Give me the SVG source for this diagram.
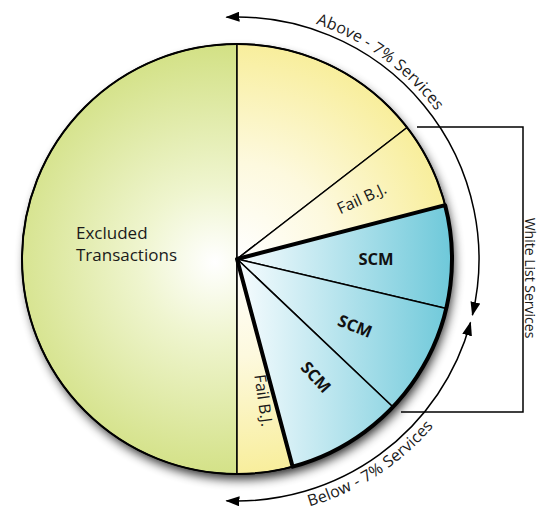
<svg xmlns="http://www.w3.org/2000/svg" width="540" height="514" viewBox="0 0 540 514">
<defs>
  <radialGradient id="gGreen" gradientUnits="userSpaceOnUse" cx="215" cy="262" r="215">
    <stop offset="0" stop-color="#ffffff"/>
    <stop offset="0.35" stop-color="#eff5cf"/>
    <stop offset="1" stop-color="#d3e186"/>
  </radialGradient>
  <radialGradient id="gYellow" gradientUnits="userSpaceOnUse" cx="237" cy="259" r="215">
    <stop offset="0" stop-color="#ffffff"/>
    <stop offset="0.45" stop-color="#fdf9de"/>
    <stop offset="1" stop-color="#f8ee9c"/>
  </radialGradient>
  <linearGradient id="gCyan" gradientUnits="userSpaceOnUse" x1="245" y1="0" x2="450" y2="0">
    <stop offset="0" stop-color="#f2fafd"/>
    <stop offset="1" stop-color="#6fc9da"/>
  </linearGradient>
  <filter id="shadow" x="-20%" y="-20%" width="140%" height="140%">
    <feGaussianBlur stdDeviation="5.5"/>
  </filter>
  <marker id="arrow" viewBox="0 0 14 10" refX="13" refY="5" markerWidth="14" markerHeight="10" markerUnits="userSpaceOnUse" orient="auto-start-reverse">
    <path d="M0,0 L14,5 L0,10 Z" fill="#000"/>
  </marker>
</defs>
<style>
  .sl { stroke: #000; stroke-width: 1.5; stroke-linejoin: round; }
  .arc { fill: none; stroke: #000; stroke-width: 1.5; marker-start: url(#arrow); marker-end: url(#arrow); }
  .lbl { font-family: "Open Sans", "Noto Sans", sans-serif; fill: #1a1a1a; }
  .scm { font-family: "Open Sans", "Noto Sans", sans-serif; font-weight: bold; font-size: 16.5px; fill: #111; }
  .arcTxt { font-family: "Open Sans", "Noto Sans", sans-serif; font-size: 16px; letter-spacing: 0.2px; fill: #1a1a1a; }
</style>

<rect width="540" height="514" fill="#ffffff"/>

<!-- shadow -->
<circle cx="240" cy="265" r="214" fill="#000" opacity="0.85" filter="url(#shadow)"/>

<g id="excluded">
  <path class="sl" d="M237,44 A215,215 0 0 0 237,474 Z" fill="url(#gGreen)"/>
  <text class="lbl" font-size="17" x="76" y="239">Excluded</text>
  <text class="lbl" font-size="17" x="76" y="261">Transactions</text>
</g>

<g id="above-slice">
  <path class="sl" d="M237,259 L237,44 A215,215 0 0 1 407.08,127.48 Z" fill="url(#gYellow)"/>
</g>

<g id="fail-bj-top">
  <path class="sl" d="M237,259 L407.08,127.48 A215,215 0 0 1 445.15,205.17 Z" fill="url(#gYellow)"/>
  <text class="lbl" font-size="16" text-anchor="middle" transform="translate(362,199) rotate(-25)" dy="5">Fail B.J.</text>
</g>

<g id="scm-1">
  <path class="sl" d="M237,259 L445.15,205.17 A215,215 0 0 1 446.23,308.46 Z" fill="url(#gCyan)"/>
  <text class="scm" text-anchor="middle" x="376" y="265">SCM</text>
</g>

<g id="scm-2">
  <path class="sl" d="M237,259 L446.23,308.46 A215,215 0 0 1 392.95,406.99 Z" fill="url(#gCyan)"/>
  <text class="scm" text-anchor="middle" transform="translate(355,326) rotate(22)" dy="6">SCM</text>
</g>

<g id="scm-3">
  <path class="sl" d="M237,259 L392.95,406.99 A215,215 0 0 1 292.65,466.67 Z" fill="url(#gCyan)"/>
  <text class="scm" text-anchor="middle" transform="translate(316,377) rotate(48)" dy="6">SCM</text>
</g>

<g id="fail-bj-bottom">
  <path class="sl" d="M237,259 L292.65,466.67 A215,215 0 0 1 237,474 Z" fill="url(#gYellow)"/>
  <text class="lbl" font-size="16" text-anchor="middle" transform="translate(253,402) rotate(82)" dy="-5">Fail B.J.</text>
</g>

<!-- thick outline of SCM region -->
<path d="M237,259 L445.15,205.17 A215,215 0 0 1 292.65,466.67 Z" fill="none" stroke="#000" stroke-width="4" stroke-linejoin="round"/>
<!-- outer circle outline -->
<circle cx="237" cy="259" r="215" fill="none" stroke="#000" stroke-width="2"/>

<g id="connectors">
  <path id="arcAbove" class="arc" d="M226.44,17.23 A242,242 0 0 1 472.41,315.08"/>
  <path id="arcBelow" class="arc" d="M470.5,322.5 A242,242 0 0 1 226.44,500.77"/>
  <path d="M417,127 H523 V412 H401" fill="none" stroke="#000" stroke-width="1.5"/>
  <path id="tpAbove" d="M198.21,14.05 A248,248 0 0 1 481.95,220.21" fill="none"/>
  <path id="tpBelow" d="M183.36,511.36 A258,258 0 0 0 489.36,312.64" fill="none"/>
</g>

<g id="labels">
  <text class="arcTxt"><textPath href="#tpAbove" startOffset="50%" text-anchor="middle">Above - 7% Services</textPath></text>
  <text class="arcTxt"><textPath href="#tpBelow" startOffset="50%" text-anchor="middle">Below - 7% Services</textPath></text>
  <text class="lbl" font-size="14" text-anchor="middle" transform="translate(525,278) rotate(90)">White List Services</text>
</g>
</svg>
